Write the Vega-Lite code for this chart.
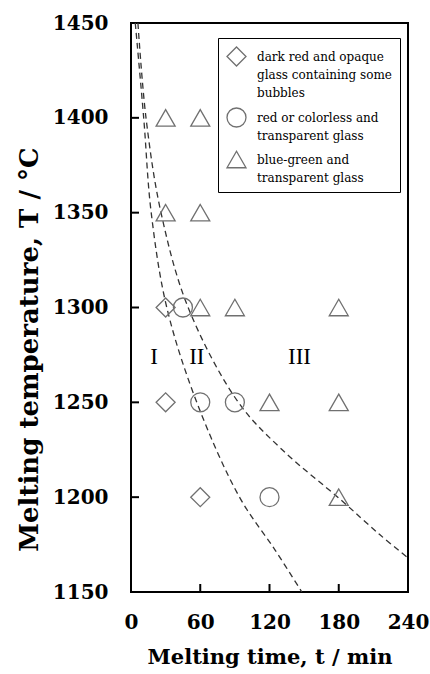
{
  "$schema": "https://vega.github.io/schema/vega-lite/v6.json",
  "width": 277,
  "height": 569,
  "autosize": "none",
  "padding": {"left": 131, "top": 23, "right": 22, "bottom": 82},
  "background": "white",
  "config": {
    "view": {"stroke": "black", "strokeWidth": 2},
    "font": "DejaVu Serif",
    "style": {"guide-label": {"lineHeight": 18}}
  },
  "datasets": {
    "pts": [
      {"type": "A", "t": 30, "T": 1300},
      {"type": "A", "t": 30, "T": 1250},
      {"type": "A", "t": 60, "T": 1200},
      {"type": "B", "t": 45, "T": 1300},
      {"type": "B", "t": 60, "T": 1250},
      {"type": "B", "t": 90, "T": 1250},
      {"type": "B", "t": 120, "T": 1200},
      {"type": "C", "t": 30, "T": 1400},
      {"type": "C", "t": 60, "T": 1400},
      {"type": "C", "t": 30, "T": 1350},
      {"type": "C", "t": 60, "T": 1350},
      {"type": "C", "t": 60, "T": 1300},
      {"type": "C", "t": 90, "T": 1300},
      {"type": "C", "t": 180, "T": 1300},
      {"type": "C", "t": 120, "T": 1250},
      {"type": "C", "t": 180, "T": 1250},
      {"type": "C", "t": 180, "T": 1200}
    ],
    "curves": [
      {"curve": "A", "t": 3.7, "T": 1450},
      {"curve": "A", "t": 11, "T": 1400},
      {"curve": "A", "t": 17.5, "T": 1350},
      {"curve": "A", "t": 31, "T": 1300},
      {"curve": "A", "t": 57, "T": 1250},
      {"curve": "A", "t": 94, "T": 1200},
      {"curve": "A", "t": 125, "T": 1172},
      {"curve": "A", "t": 148, "T": 1150},
      {"curve": "B", "t": 6, "T": 1450},
      {"curve": "B", "t": 13, "T": 1400},
      {"curve": "B", "t": 26, "T": 1350},
      {"curve": "B", "t": 49.5, "T": 1300},
      {"curve": "B", "t": 93, "T": 1250},
      {"curve": "B", "t": 131, "T": 1225},
      {"curve": "B", "t": 181, "T": 1199},
      {"curve": "B", "t": 216, "T": 1180},
      {"curve": "B", "t": 240, "T": 1168}
    ],
    "regions": [
      {"label": "I", "t": 20, "T": 1274},
      {"label": "II", "t": 57, "T": 1274},
      {"label": "III", "t": 146, "T": 1274}
    ],
    "xticks": [
      {"t": 60, "T": 1150},
      {"t": 120, "T": 1150},
      {"t": 180, "T": 1150}
    ],
    "yticks": [
      {"t": 0, "T": 1200},
      {"t": 0, "T": 1250},
      {"t": 0, "T": 1300},
      {"t": 0, "T": 1350},
      {"t": 0, "T": 1400}
    ]
  },
  "encoding": {
    "x": {
      "field": "t", "type": "quantitative",
      "scale": {"domain": [0, 240], "nice": false, "zero": false},
      "axis": {
        "values": [0, 60, 120, 180, 240],
        "title": "Melting time, t  / min",
        "grid": false, "domain": false, "ticks": false,
        "labelFont": "DejaVu Serif", "labelFontSize": 20, "labelFontWeight": "bold", "labelColor": "black",
        "labelPadding": 20, "labelFlush": false,
        "titleFont": "DejaVu Serif", "titleFontSize": 21, "titleFontWeight": "bold", "titleColor": "black",
        "titlePadding": 14
      }
    },
    "y": {
      "field": "T", "type": "quantitative",
      "scale": {"domain": [1150, 1450], "nice": false, "zero": false},
      "axis": {
        "values": [1150, 1200, 1250, 1300, 1350, 1400, 1450],
        "format": "d",
        "title": "Melting temperature, T / °C",
        "grid": false, "domain": false, "ticks": false,
        "labelFont": "DejaVu Serif", "labelFontSize": 20, "labelFontWeight": "bold", "labelColor": "black",
        "labelPadding": 23, "labelFlush": false,
        "titleFont": "DejaVu Serif", "titleFontSize": 26, "titleFontWeight": "bold", "titleColor": "black",
        "titlePadding": 10, "titleY": 326
      }
    }
  },
  "layer": [
    {
      "data": {"name": "xticks"},
      "mark": {"type": "tick", "orient": "vertical", "size": 16, "thickness": 2, "color": "black", "opacity": 1, "clip": true}
    },
    {
      "data": {"name": "yticks"},
      "mark": {"type": "tick", "orient": "horizontal", "size": 16, "thickness": 2, "color": "black", "opacity": 1, "clip": true}
    },
    {
      "data": {"name": "curves"},
      "mark": {"type": "line", "strokeDash": [6, 4], "color": "#333333", "strokeWidth": 1.3, "interpolate": "catmull-rom", "clip": true},
      "encoding": {"detail": {"field": "curve", "type": "nominal"}}
    },
    {
      "data": {"name": "pts"},
      "mark": {"type": "point", "filled": false, "size": 361, "color": "#707070", "strokeWidth": 1.3, "opacity": 1},
      "encoding": {
        "shape": {
          "field": "type", "type": "nominal",
          "scale": {"domain": ["A", "B", "C"], "range": ["diamond", "circle", "triangle-up"]},
          "legend": {
            "title": null, "orient": "none", "legendX": 87, "legendY": 15, "direction": "vertical",
            "padding": 8, "strokeColor": "black", "fillColor": "white",
            "symbolSize": 361, "symbolStrokeColor": "#707070", "symbolStrokeWidth": 1.3, "symbolFillColor": "white",
            "labelFont": "DejaVu Serif", "labelFontSize": 12, "labelColor": "black", "labelOffset": 10, "labelLimit": 0,
            "rowPadding": 6,
            "labelExpr": "datum.label == 'A' ? ['dark red and opaque', 'glass containing some', 'bubbles'] : datum.label == 'B' ? ['red or colorless and', 'transparent glass'] : ['blue-green and', 'transparent glass']",
            "encode": {"legend": {"update": {"strokeWidth": {"value": 1.5}}}}
          }
        }
      }
    },
    {
      "data": {"name": "regions"},
      "mark": {"type": "text", "font": "Liberation Serif", "fontSize": 23, "color": "black", "baseline": "middle", "align": "center"},
      "encoding": {"text": {"field": "label", "type": "nominal"}}
    }
  ]
}
